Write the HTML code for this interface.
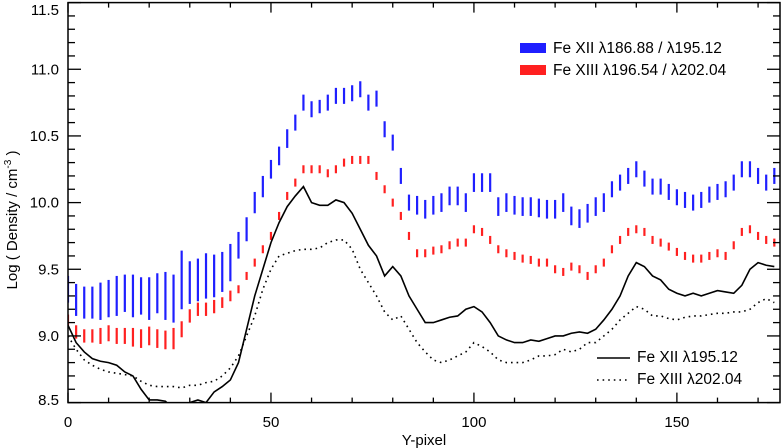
<!DOCTYPE html>
<html><head><meta charset="utf-8"><style>
html,body{margin:0;padding:0;background:#fff}
svg{display:block;font-family:"Liberation Sans",sans-serif}
</style></head><body>
<svg id="chart" width="781" height="448" viewBox="0 0 781 448">
<g id="plot"></g>
</svg>
<script>
const xs = [0,2,4,6,8,10,12,14,16,18,20,22,24,26,28,30,32,34,36,38,40,42,44,46,48,50,52,54,56,58,60,62,64,66,68,70,72,74,76,78,80,82,84,86,88,90,92,94,96,98,100,102,104,106,108,110,112,114,116,118,120,122,124,126,128,130,132,134,136,138,140,142,144,146,148,150,152,154,156,158,160,162,164,166,168,170,172,174];
const blueVals = [9.35,9.27,9.25,9.25,9.26,9.28,9.3,9.32,9.3,9.3,9.28,9.32,9.3,9.28,9.42,9.4,9.42,9.45,9.45,9.48,9.55,9.68,9.8,10.0,10.12,10.25,10.35,10.48,10.6,10.75,10.7,10.72,10.75,10.8,10.8,10.82,10.85,10.75,10.78,10.55,10.45,10.2,10.0,9.98,9.95,9.98,10.0,10.05,10.05,10.0,10.15,10.15,10.15,9.97,10.0,9.98,9.97,9.97,9.96,9.95,9.95,10.0,9.9,9.88,9.92,9.97,10.0,10.1,10.15,10.2,10.25,10.18,10.12,10.12,10.08,10.04,10.02,10.0,10.02,10.06,10.08,10.1,10.15,10.25,10.25,10.2,10.15,10.2];
const blueErr = [0.1,0.12,0.12,0.12,0.14,0.14,0.15,0.14,0.16,0.14,0.16,0.15,0.18,0.18,0.22,0.16,0.16,0.17,0.16,0.15,0.14,0.1,0.09,0.08,0.08,0.07,0.07,0.07,0.06,0.06,0.06,0.05,0.06,0.06,0.06,0.06,0.06,0.06,0.06,0.06,0.06,0.06,0.06,0.07,0.07,0.07,0.07,0.07,0.07,0.07,0.07,0.07,0.07,0.07,0.07,0.07,0.07,0.07,0.07,0.07,0.07,0.07,0.07,0.07,0.07,0.07,0.07,0.06,0.06,0.06,0.06,0.06,0.06,0.06,0.06,0.06,0.06,0.06,0.06,0.06,0.06,0.06,0.06,0.06,0.06,0.06,0.06,0.06];
const redVals = [9.12,9.03,9.0,9.0,9.0,9.02,9.0,9.0,8.99,8.98,9.0,8.98,8.97,8.98,9.05,9.15,9.2,9.2,9.22,9.25,9.3,9.35,9.45,9.55,9.65,9.75,9.9,10.05,10.15,10.25,10.25,10.25,10.22,10.25,10.3,10.32,10.32,10.32,10.2,10.1,10.0,9.9,9.75,9.62,9.62,9.64,9.65,9.68,9.7,9.7,9.8,9.78,9.72,9.65,9.62,9.6,9.58,9.57,9.55,9.55,9.5,9.48,9.52,9.5,9.45,9.5,9.55,9.65,9.72,9.78,9.8,9.78,9.72,9.7,9.67,9.63,9.6,9.58,9.58,9.6,9.62,9.6,9.68,9.78,9.8,9.75,9.72,9.7];
const redErr = [0.04,0.05,0.05,0.05,0.06,0.06,0.06,0.06,0.07,0.07,0.07,0.07,0.07,0.08,0.06,0.05,0.05,0.05,0.05,0.04,0.04,0.03,0.03,0.03,0.03,0.03,0.03,0.03,0.03,0.03,0.03,0.03,0.03,0.03,0.03,0.03,0.03,0.03,0.03,0.03,0.03,0.03,0.03,0.03,0.03,0.03,0.03,0.03,0.03,0.03,0.03,0.03,0.03,0.03,0.03,0.03,0.03,0.03,0.03,0.03,0.03,0.03,0.03,0.03,0.03,0.03,0.03,0.03,0.03,0.03,0.03,0.03,0.03,0.03,0.03,0.03,0.03,0.03,0.03,0.03,0.03,0.03,0.03,0.03,0.03,0.03,0.03,0.03];
const fe12Vals = [9.08,8.95,8.88,8.83,8.81,8.8,8.78,8.73,8.7,8.6,8.52,8.52,8.51,8.45,8.45,8.5,8.52,8.5,8.58,8.62,8.67,8.8,9.05,9.3,9.5,9.7,9.85,9.97,10.05,10.12,10.0,9.98,9.98,10.02,10.0,9.92,9.8,9.68,9.6,9.45,9.52,9.45,9.3,9.2,9.1,9.1,9.12,9.14,9.15,9.2,9.22,9.18,9.1,9.0,8.97,8.95,8.95,8.97,8.96,8.98,9.0,9.0,9.02,9.03,9.02,9.05,9.12,9.2,9.3,9.45,9.55,9.52,9.45,9.42,9.35,9.32,9.3,9.32,9.3,9.32,9.34,9.33,9.32,9.38,9.5,9.55,9.53,9.52];
const fe13Vals = [9.0,8.9,8.82,8.78,8.75,8.73,8.72,8.71,8.7,8.66,8.63,8.62,8.62,8.62,8.61,8.63,8.63,8.65,8.66,8.7,8.76,8.85,9.0,9.15,9.35,9.5,9.6,9.62,9.64,9.65,9.65,9.66,9.7,9.72,9.72,9.65,9.5,9.4,9.3,9.18,9.12,9.15,9.05,8.95,8.88,8.82,8.8,8.82,8.85,8.88,8.95,8.92,8.88,8.82,8.8,8.8,8.8,8.82,8.85,8.85,8.86,8.9,8.88,8.9,8.95,8.95,9.0,9.05,9.12,9.17,9.22,9.2,9.15,9.15,9.13,9.12,9.14,9.15,9.15,9.16,9.17,9.17,9.18,9.18,9.2,9.25,9.28,9.25];
const xTicks = [0,50,100,150];
const xTickLabels = ["0","50","100","150"];
const yTicks = [8.5,9.0,9.5,10.0,10.5,11.0,11.5];
const yTickLabels = ["8.5","9.0","9.5","10.0","10.5","11.0","11.5"];

const NS='http://www.w3.org/2000/svg';
const L=68,R=780,T=2.6,B=402.6,XMIN=0,XMAX=175.4,YMIN=8.5,YMAX=11.5;
const sx=v=>L+(v-XMIN)/(XMAX-XMIN)*(R-L);
const sy=v=>B-(v-YMIN)/(YMAX-YMIN)*(B-T);
const plot=document.getElementById('plot');
function mk(tag,attrs,parent){const e=document.createElementNS(NS,tag);for(const k in attrs)e.setAttribute(k,attrs[k]);(parent||plot).appendChild(e);return e;}

// clip
const defs=mk('defs',{});const cp=mk('clipPath',{id:'clip'},defs);mk('rect',{x:L,y:T,width:R-L,height:B-T},cp);
const data=mk('g',{'clip-path':'url(#clip)'});

// error bars
xs.forEach((x,i)=>{
  const b=mk('line',{x1:sx(x),x2:sx(x),y1:sy(blueVals[i]-blueErr[i]),y2:sy(blueVals[i]+blueErr[i]),stroke:'#1f1fff','stroke-width':2.2},data);
  
  
  const r=mk('line',{x1:sx(x),x2:sx(x),y1:sy(redVals[i]-redErr[i]),y2:sy(redVals[i]+redErr[i]),stroke:'#ff2020','stroke-width':2.2},data);
  
  
});
const p1=mk('polyline',{points:xs.map((x,i)=>sx(x)+','+sy(fe12Vals[i])).join(' '),fill:'none',stroke:'#000','stroke-width':1.6},data);


const p2=mk('polyline',{points:xs.map((x,i)=>sx(x)+','+sy(fe13Vals[i])).join(' '),fill:'none',stroke:'#000','stroke-width':1.6,'stroke-dasharray':'1.6,4'},data);



// frame
const fr=mk('rect',{x:L,y:T,width:R-L,height:B-T,fill:'none',stroke:'#000','stroke-width':1.5});


// x ticks
for(let v=0;v<=175;v+=10){const maj=v%50===0;const len=maj?10:5;
  mk('line',{x1:sx(v),x2:sx(v),y1:B,y2:B-len,stroke:'#000','stroke-width':1.3});
  mk('line',{x1:sx(v),x2:sx(v),y1:T,y2:T+len,stroke:'#000','stroke-width':1.3});}
xTicks.forEach((v,i)=>{const t=mk('text',{x:sx(v),y:427,'text-anchor':'middle','font-size':15});t.textContent=xTickLabels[i];
  
  });
// y ticks
for(let k=0;k<=30;k++){const v=8.5+k*0.1;const maj=k%5===0;const len=maj?13:7;
  mk('line',{x1:L,x2:L+len,y1:sy(v),y2:sy(v),stroke:'#000','stroke-width':1.3});
  mk('line',{x1:R,x2:R-len,y1:sy(v),y2:sy(v),stroke:'#000','stroke-width':1.3});}
yTicks.forEach((v,i)=>{const t=mk('text',{x:59,y:Math.min(Math.max(sy(v)+5,15),405),'text-anchor':'end','font-size':15});t.textContent=yTickLabels[i];
  
  });
const xt=mk('text',{x:424,y:445,'text-anchor':'middle','font-size':15});xt.textContent='Y-pixel';


const yt=mk('text',{x:0,y:0,'text-anchor':'middle','font-size':15,transform:'translate(17,220) rotate(-90)'});
yt.innerHTML='Log ( Density / cm<tspan font-size="10" dy="-6">-3</tspan><tspan dy="6"> )</tspan>';



// legends
function legend(name,y,draw,label){const g=mk('g',{});draw(g);
  const t=mk('text',{x:draw.tx,y:y+5,'font-size':15.5},g);t.textContent=label;}
const l1=g=>mk('rect',{x:520,y:43,width:26,height:10,fill:'#1f1fff'},g);l1.tx=553;
legend('legend-fe-xii-ratio',48,l1,'Fe XII λ186.88 / λ195.12');
const l2=g=>mk('rect',{x:520,y:65,width:26,height:10,fill:'#ff2020'},g);l2.tx=553;
legend('legend-fe-xiii-ratio',70,l2,'Fe XIII λ196.54 / λ202.04');
const l3=g=>mk('line',{x1:597,x2:630,y1:358,y2:358,stroke:'#000','stroke-width':1.6},g);l3.tx=637;
legend('legend-fe-xii-195',357,l3,'Fe XII λ195.12');
const l4=g=>mk('line',{x1:597,x2:630,y1:380,y2:380,stroke:'#000','stroke-width':1.6,'stroke-dasharray':'1.6,4'},g);l4.tx=637;
legend('legend-fe-xiii-202',379,l4,'Fe XIII λ202.04');
</script>
</body></html>
